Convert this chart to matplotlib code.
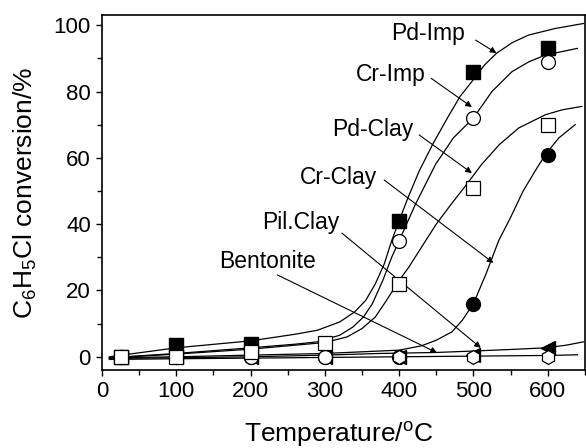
import matplotlib
matplotlib.use("Agg")
import matplotlib.pyplot as plt
from matplotlib.ticker import MultipleLocator

plt.rcParams['font.family'] = ['Liberation Sans', 'DejaVu Sans']
plt.rcParams['mathtext.fontset'] = 'custom'
plt.rcParams['mathtext.rm'] = 'Liberation Sans'
plt.rcParams['mathtext.it'] = 'Liberation Sans:italic'

# measured points
temps = [25, 100, 200, 300, 400, 500, 600]
pd_imp_t = [25, 100, 200, 400, 500, 600]
pd_imp = [0, 3.5, 4, 41, 86, 93]
cr_imp = [0, 0, 0, 0, 35, 72, 89]
pd_clay = [0, 0, 1.5, 4.2, 22, 51, 70]
cr_clay = [0, 0, 0, 0, 0, 16, 61]
pil_clay = [0, 0, 0, 0, 0, 0.5, 2.5]
bentonite = [0, 0, 0, 0, 0, 0, 0]

# fitted curves
pd_imp_fit_x = [10, 100, 200, 260, 290, 320, 340, 355, 368, 380, 390, 400, 412, 427, 445, 465,
                482, 498, 515, 531, 552, 574, 610, 648]
pd_imp_fit_y = [0, 2.7, 4.8, 6.8, 8, 10.5, 13.5, 17, 22, 28, 35, 41, 48, 56, 64, 72,
                78.5, 83, 88, 91.5, 94.7, 97, 99, 100.5]
cr_imp_fit_x = [10, 100, 200, 260, 290, 320, 338, 352, 364, 378, 390, 400, 422, 449, 473, 500,
                525, 552, 575, 597, 640]
cr_imp_fit_y = [-0.3, 1, 2.7, 3.8, 4.5, 6.5, 9, 12, 16, 23, 30, 35, 46, 58, 66, 72,
                80, 86, 89, 91, 93]
pd_clay_fit_x = [10, 100, 200, 300, 330, 350, 368, 383, 400, 413, 430, 450, 470, 491, 511, 535,
                 561, 597, 620, 646]
pd_clay_fit_y = [-0.3, 0.8, 2.3, 4.3, 6, 8.5, 12, 17, 23, 27, 33, 40, 46, 52, 58, 64,
                 69, 73, 74.5, 75.5]
cr_clay_fit_x = [10, 100, 200, 300, 400, 430, 450, 471, 485, 500, 517, 534, 550, 567, 583, 597,
                 615, 637]
cr_clay_fit_y = [-0.3, 0, 0.5, 1, 2, 3.3, 5, 7.5, 11, 16, 25, 35, 42, 50, 56, 61,
                 66, 70]
pil_clay_fit_x = [10, 100, 200, 300, 373, 450, 507, 550, 597, 625, 648]
pil_clay_fit_y = [-0.5, -0.3, 0, 0.5, 1, 1.3, 1.8, 2.2, 2.7, 3.5, 4.5]
bent_fit_x = [10, 100, 200, 300, 400, 500, 600, 640]
bent_fit_y = [-0.8, -0.6, -0.4, -0.2, 0, 0.2, 0.4, 0.6]

# label text, text centre, arrow start, arrow tip
labels = [
    ('Pd-Imp', (439, 97.6), (503, 95.5), (531, 91.6)),
    ('Cr-Imp', (389, 85), (443, 84), (498, 75.3)),
    ('Pd-Clay', (365, 68.4), (427, 66.9), (498, 55.4)),
    ('Cr-Clay', (319, 54), (380, 53.3), (527, 28.3)),
    ('Pil.Clay', (267, 40.4), (323, 37.3), (510, 2.7)),
    ('Bentonite', (223, 28.6), (236, 24.7), (451, 1.2)),
]

fig = plt.figure(figsize=(5.86, 4.48), dpi=100)
ax = fig.add_axes([0.174, 0.174, 0.824, 0.792])

lw = 0.9
for fx, fy in [(pd_imp_fit_x, pd_imp_fit_y), (cr_imp_fit_x, cr_imp_fit_y),
               (pd_clay_fit_x, pd_clay_fit_y), (cr_clay_fit_x, cr_clay_fit_y),
               (pil_clay_fit_x, pil_clay_fit_y), (bent_fit_x, bent_fit_y)]:
    ax.plot(fx, fy, color='black', lw=lw, zorder=2)

ms = 10
ax.plot(temps, cr_clay, 'o', ms=ms, mfc='black', mec='black', zorder=3)
ax.plot(temps, pil_clay, '<', ms=ms, mfc='black', mec='black', zorder=3)
ax.plot(pd_imp_t, pd_imp, 's', ms=ms, mfc='black', mec='black', zorder=3)
ax.plot(temps, bentonite, 'h', ms=ms, mfc='white', mec='black', mew=0.9, zorder=4)
ax.plot(temps, cr_imp, 'o', ms=ms, mfc='white', mec='black', mew=0.9, zorder=4)
ax.plot(temps, pd_clay, 's', ms=ms, mfc='white', mec='black', mew=0.9, zorder=5)

for name, txt, start, tip in labels:
    ax.text(txt[0], txt[1], name, ha='center', va='center', fontsize=16.5, zorder=6)
    ax.annotate('', xy=tip, xytext=start,
                arrowprops=dict(arrowstyle='-|>', lw=0.8, color='black',
                                mutation_scale=9, shrinkA=0, shrinkB=0))

ax.set_xlim(0, 650)
ax.set_ylim(-4, 103)
ax.xaxis.set_major_locator(MultipleLocator(100))
ax.xaxis.set_minor_locator(MultipleLocator(50))
ax.yaxis.set_major_locator(MultipleLocator(20))
ax.yaxis.set_minor_locator(MultipleLocator(10))
ax.tick_params(which='both', direction='out', length=4.5, width=1, labelsize=16)
ax.tick_params(which='minor', length=3.5)
for sp in ax.spines.values():
    sp.set_linewidth(1.2)

ax.set_xlabel(r'Temperature/$^{\mathrm{o}}$C', fontsize=19)
ax.set_ylabel(r'C$_6$H$_5$Cl conversion/%', fontsize=19)
ax.xaxis.set_label_coords(0.49, -0.14)
ax.yaxis.set_label_coords(-0.13, 0.5)

fig.savefig('out.png', dpi=100)
